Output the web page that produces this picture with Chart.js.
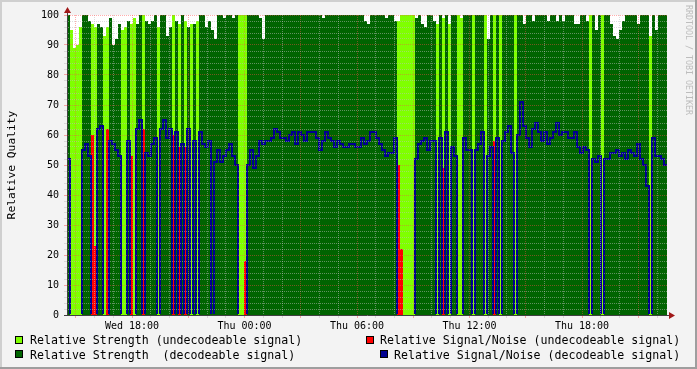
<!DOCTYPE html>
<html lang="en">
<head>
    <meta charset="UTF-8">
    <title>Relative Quality</title>
    <style>
        body {
            margin: 0;
            background: #f3f3f3;
        }

        .graph {
            position: relative;
            width: 697px;
            height: 369px;
            font-family: 'DejaVu Sans Mono', monospace;
        }

        canvas {
            position: absolute;
            left: 0;
            top: 0;
        }

        .legend-item {
            position: absolute;
            font-size: 11.6px;
            line-height: 14px;
            white-space: pre;
            color: #000;
        }

        .legend-color {
            position: absolute;
            width: 8px;
            height: 8px;
            box-sizing: border-box;
            border: 1px solid #000;
        }
    </style>
</head>
<body>
    <div class="graph">
        <canvas id="quality" width="697" height="369"></canvas>

        <div class="legend-color" style="left:15px; top:336px; background:#7fff00;"></div>
        <div class="legend-item" style="left:30px; top:333px;">Relative Strength (undecodeable signal)</div>
        <div class="legend-color" style="left:15px; top:350px; background:#006400;"></div>
        <div class="legend-item" style="left:30px; top:347.5px;">Relative Strength  (decodeable signal)</div>

        <div class="legend-color" style="left:366px; top:336px; background:#ff0000;"></div>
        <div class="legend-item" style="left:380px; top:333px;">Relative Signal/Noise (undecodeable signal)</div>
        <div class="legend-color" style="left:380px; top:350px; background:#000090;"></div>
        <div class="legend-item" style="left:394px; top:347.5px;">Relative Signal/Noise (decodeable signal)</div>
    </div>

    <script src="https://cdn.jsdelivr.net/npm/chart.js"></script>
    <script>
        // one column of the graph = 9.6 minutes, first column at Wed 14:32
        const sampleMinutes = 9.6;

        // relative strength per column (0..100)
        const strength = [
            100, 95, 89, 90, 96, 100, 100, 98, 97, 96,
            97, 96, 93, 96, 99, 90, 92, 97, 95, 96,
            98, 97, 99, 97, 100, 100, 98, 97, 98, 100,
            96, 100, 100, 93, 96, 100, 98, 97, 100, 98,
            96, 97, 97, 98, 100, 100, 96, 98, 95, 92,
            100, 100, 99, 100, 100, 99, 100, 100, 100, 100,
            100, 100, 100, 100, 99, 92, 100, 100, 100, 100,
            100, 100, 100, 100, 100, 100, 100, 100, 100, 100,
            100, 100, 100, 100, 100, 99, 100, 100, 100, 100,
            100, 100, 100, 100, 100, 100, 100, 100, 100, 98,
            97, 100, 100, 100, 100, 100, 99, 100, 100, 98,
            98, 100, 100, 100, 100, 100, 99, 100, 97, 96,
            100, 100, 98, 97, 100, 99, 100, 97, 100, 100,
            100, 99, 100, 100, 100, 100, 100, 100, 100, 100,
            92, 100, 100, 100, 100, 100, 100, 100, 100, 100,
            100, 100, 97, 100, 100, 98, 100, 100, 100, 100,
            98, 100, 100, 98, 100, 98, 100, 100, 100, 97,
            97, 100, 100, 98, 100, 100, 95, 100, 100, 100,
            100, 97, 93, 92, 95, 98, 100, 100, 100, 100,
            97, 100, 100, 100, 93, 100, 95, 100, 100, 100
        ];

        // 1 = signal could be decoded, 0 = undecodeable
        const decodeable = [
            1, 0, 0, 0, 0, 1, 1, 1, 0, 0,
            1, 1, 0, 0, 1, 1, 1, 1, 0, 0,
            1, 0, 0, 1, 1, 0, 1, 1, 1, 1,
            0, 1, 1, 1, 1, 0, 1, 0, 1, 0,
            1, 0, 1, 0, 1, 1, 1, 1, 1, 1,
            1, 1, 1, 1, 1, 1, 1, 0, 0, 0,
            1, 1, 1, 1, 1, 1, 1, 1, 1, 1,
            1, 1, 1, 1, 1, 1, 1, 1, 1, 1,
            1, 1, 1, 1, 1, 1, 1, 1, 1, 1,
            1, 1, 1, 1, 1, 1, 1, 1, 1, 1,
            1, 1, 1, 1, 1, 1, 1, 1, 1, 1,
            0, 0, 0, 0, 0, 0, 1, 1, 1, 1,
            1, 1, 1, 0, 1, 0, 1, 0, 1, 1,
            0, 0, 1, 1, 1, 0, 1, 1, 1, 0,
            1, 1, 0, 1, 0, 1, 1, 1, 1, 0,
            1, 1, 1, 1, 1, 1, 1, 1, 1, 1,
            1, 1, 1, 1, 1, 1, 1, 1, 1, 1,
            1, 1, 1, 1, 0, 1, 1, 1, 0, 1,
            1, 1, 1, 1, 1, 1, 1, 1, 1, 1,
            1, 1, 1, 1, 0, 1, 1, 1, 1, 1
        ];

        // relative signal/noise per column (0..100)
        const signalNoise = [
            52, 0, 0, 0, 0, 55, 57, 53, 60, 23,
            62, 63, 0, 62, 58, 57, 55, 53, 0, 0,
            58, 53, 0, 62, 65, 62, 54, 53, 57, 59,
            0, 62, 65, 59, 62, 60, 61, 56, 57, 56,
            62, 0, 58, 0, 61, 57, 56, 58, 0, 51,
            55, 51, 53, 55, 57, 53, 50, 0, 0, 18,
            50, 55, 49, 53, 58, 57, 58, 58, 59, 62,
            61, 59, 59, 58, 60, 61, 57, 61, 60, 58,
            61, 61, 61, 59, 55, 58, 61, 59, 58, 56,
            58, 57, 56, 56, 57, 57, 56, 56, 59, 57,
            58, 61, 61, 59, 57, 55, 53, 54, 54, 59,
            50, 22, 0, 0, 0, 0, 52, 57, 58, 59,
            55, 58, 58, 0, 59, 49, 61, 0, 56, 53,
            0, 0, 59, 55, 55, 0, 55, 57, 61, 0,
            53, 56, 58, 59, 0, 58, 61, 63, 54, 0,
            60, 71, 63, 59, 56, 62, 64, 61, 58, 61,
            57, 59, 61, 64, 60, 61, 61, 59, 59, 61,
            56, 54, 56, 55, 0, 52, 51, 53, 0, 52,
            52, 54, 54, 55, 53, 54, 52, 55, 54, 53,
            57, 52, 50, 43, 0, 59, 53, 53, 52, 50
        ];

        // labelled x ticks, minutes after the first column
        const tickMinutes = [208, 568, 928, 1288, 1648];
        const tickLabels = ['Wed 18:00', 'Thu 00:00', 'Thu 06:00', 'Thu 12:00', 'Thu 18:00'];

        const totalMinutes = strength.length * sampleMinutes;
        const minorGrid = 'rgba(190, 190, 190, 0.5)';
        const majorGrid = 'rgba(255, 70, 70, 0.45)';

        // stepped series: every value holds for one column, last point closes the final column
        function series(valueAt) {
            const points = strength.map((_, i) => ({ x: i * sampleMinutes, y: valueAt(i) }));
            points.push({ x: totalMinutes, y: points[points.length - 1].y });
            return points;
        }

        function isMajorX(m) {
            return (m - tickMinutes[0]) % 180 === 0;
        }

        const rrdLook = {
            id: 'rrdLook',
            beforeDraw(chart) {
                const { ctx, chartArea: a } = chart;
                ctx.save();
                ctx.fillStyle = '#f3f3f3';
                ctx.fillRect(0, 0, chart.width, chart.height);
                ctx.fillStyle = '#ffffff';
                ctx.fillRect(a.left, a.top, a.right - a.left, a.bottom - a.top);
                ctx.restore();
            },
            afterDraw(chart) {
                const { ctx, chartArea: a } = chart;
                const w = chart.width, h = chart.height;
                ctx.save();

                // axis extensions and arrow heads
                ctx.strokeStyle = '#404040';
                ctx.lineWidth = 1;
                ctx.beginPath();
                ctx.moveTo(a.left + 0.5, a.top);
                ctx.lineTo(a.left + 0.5, a.top - 4);
                ctx.moveTo(a.left - 3, a.bottom + 0.5);
                ctx.lineTo(a.left, a.bottom + 0.5);
                ctx.moveTo(a.right, a.bottom + 0.5);
                ctx.lineTo(a.right + 4, a.bottom + 0.5);
                ctx.stroke();

                ctx.fillStyle = '#a01818';
                ctx.beginPath();
                ctx.moveTo(a.left + 0.5, a.top - 8);
                ctx.lineTo(a.left - 3, a.top - 2);
                ctx.lineTo(a.left + 4, a.top - 2);
                ctx.closePath();
                ctx.fill();
                ctx.beginPath();
                ctx.moveTo(a.right + 8, a.bottom + 0.5);
                ctx.lineTo(a.right + 2, a.bottom - 3);
                ctx.lineTo(a.right + 2, a.bottom + 4);
                ctx.closePath();
                ctx.fill();

                // watermark
                ctx.translate(688, 5);
                ctx.rotate(Math.PI / 2);
                ctx.fillStyle = '#bdbdbd';
                ctx.font = '8.3px "DejaVu Sans Mono"';
                ctx.textBaseline = 'middle';
                ctx.fillText('RRDTOOL / TOBI OETIKER', 0, 0);
                ctx.restore();

                // image frame
                ctx.save();
                ctx.fillStyle = '#cfcfcf';
                ctx.fillRect(0, 0, w, 2);
                ctx.fillRect(0, 0, 2, h);
                ctx.fillStyle = '#9e9e9e';
                ctx.fillRect(0, h - 2, w, 2);
                ctx.fillRect(w - 2, 0, 2, h);
                ctx.restore();
            }
        };

        new Chart(document.getElementById('quality'), {
            type: 'line',
            data: {
                datasets: [
                    {
                        label: 'Relative Signal/Noise (decodeable signal)',
                        data: series(i => decodeable[i] ? signalNoise[i] : 0),
                        borderColor: '#000090',
                        borderWidth: 2,
                        stepped: true,
                        fill: false,
                        pointRadius: 0,
                        clip: { left: 0, right: 0, top: 1, bottom: -1 }
                    },
                    {
                        label: 'Relative Signal/Noise (undecodeable signal)',
                        data: series(i => decodeable[i] ? 0 : signalNoise[i]),
                        borderWidth: 0,
                        backgroundColor: '#ff0000',
                        stepped: true,
                        fill: 'origin',
                        pointRadius: 0
                    },
                    {
                        label: 'Relative Strength  (decodeable signal)',
                        data: series(i => decodeable[i] ? strength[i] : 0),
                        borderWidth: 0,
                        backgroundColor: '#006400',
                        stepped: true,
                        fill: 'origin',
                        pointRadius: 0
                    },
                    {
                        label: 'Relative Strength (undecodeable signal)',
                        data: series(i => decodeable[i] ? 0 : strength[i]),
                        borderWidth: 0,
                        backgroundColor: '#7fff00',
                        stepped: true,
                        fill: 'origin',
                        pointRadius: 0
                    }
                ]
            },
            options: {
                responsive: false,
                animation: false,
                events: [],
                layout: {
                    padding: { left: 0, right: 30, top: 15, bottom: 0 }
                },
                scales: {
                    x: {
                        type: 'linear',
                        min: 0,
                        max: totalMinutes,
                        afterFit: scale => { scale.height = 54; },
                        afterBuildTicks: scale => {
                            const ticks = [];
                            for (let m = 28; m < totalMinutes; m += 60) ticks.push({ value: m });
                            scale.ticks = ticks;
                        },
                        ticks: {
                            autoSkip: false,
                            maxRotation: 0,
                            padding: 2,
                            color: '#000',
                            font: { family: 'DejaVu Sans Mono', size: 10 },
                            callback: value => {
                                const k = tickMinutes.indexOf(value);
                                return k >= 0 ? tickLabels[k] : '';
                            }
                        },
                        grid: {
                            z: 1,
                            lineWidth: 1,
                            tickLength: 3,
                            color: c => c.tick && isMajorX(c.tick.value) ? majorGrid : minorGrid,
                            tickColor: c => c.tick && isMajorX(c.tick.value) ? majorGrid : minorGrid
                        },
                        border: {
                            z: 2,
                            color: '#404040',
                            dash: [1, 1]
                        }
                    },
                    y: {
                        min: 0,
                        max: 100,
                        afterFit: scale => { scale.width = 67; },
                        afterBuildTicks: scale => {
                            const ticks = [];
                            for (let v = 0; v <= 100; v += 2) ticks.push({ value: v });
                            scale.ticks = ticks;
                        },
                        ticks: {
                            autoSkip: false,
                            padding: 5,
                            color: '#000',
                            font: { family: 'DejaVu Sans Mono', size: 10 },
                            callback: value => value % 10 === 0 ? value : ''
                        },
                        grid: {
                            z: 1,
                            lineWidth: 1,
                            tickLength: 3,
                            color: c => c.tick && c.tick.value % 10 === 0 ? majorGrid : minorGrid,
                            tickColor: c => c.tick && c.tick.value % 10 === 0 ? majorGrid : minorGrid
                        },
                        border: {
                            z: 2,
                            color: '#404040',
                            dash: [1, 1]
                        },
                        title: {
                            display: true,
                            text: 'Relative Quality',
                            color: '#000',
                            padding: { top: 5, bottom: 0 },
                            font: { family: 'DejaVu Sans Mono', size: 11.3 }
                        }
                    }
                },
                plugins: {
                    legend: { display: false },
                    tooltip: { enabled: false }
                }
            },
            plugins: [rrdLook]
        });
    </script>
</body>
</html>
